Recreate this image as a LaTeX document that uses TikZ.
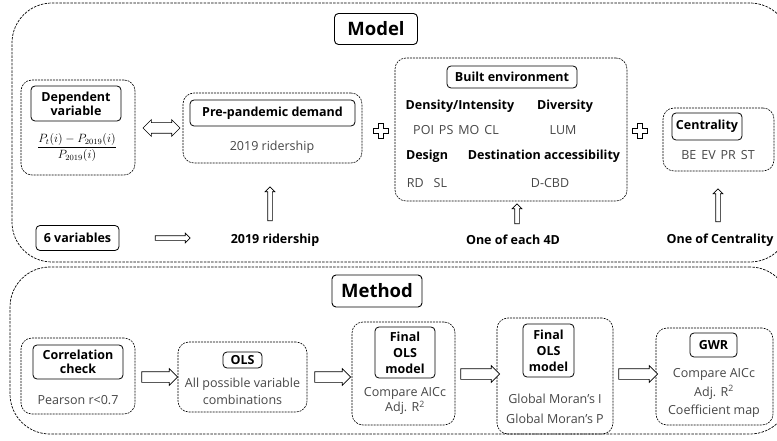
\documentclass[tikz,border=0pt]{standalone}
\usepackage{amsmath}
\usepackage{fontspec}
\setmainfont{Open Sans}
\usetikzlibrary{shapes.arrows, positioning, calc}
\definecolor{TextGray}{RGB}{70, 70, 70}

\begin{document}
\begin{tikzpicture}[
            x=1pt, y=-1pt,
            frame/.style={draw, line width=0.7pt, dash pattern=on 2.5pt off 1.2pt, rounded corners=40pt},
            group/.style={draw, line width=0.6pt, dash pattern=on 2pt off 1pt, rounded corners=11pt},
            label/.style={draw, line width=0.8pt, rounded corners=4pt, align=center, inner sep=1pt, font=\fontsize{12.5}{14}\selectfont\bfseries},
            headline/.style={label, line width=0.9pt, font=\fontsize{18.5}{20}\selectfont\bfseries},
            body/.style={align=center, inner sep=1pt, text=TextGray, font=\fontsize{12.5}{19}\selectfont},
            tag/.style={inner sep=1pt, font=\fontsize{12.5}{14}\selectfont\bfseries},
            blockarrow/.style={single arrow, draw, line width=0.7pt, fill=white, inner sep=5pt, minimum width=0pt, single arrow head extend=3pt},
            thinarrow/.style={blockarrow, inner sep=2pt, single arrow head extend=2.5pt},
            plusmark/.pic={\draw[line width=0.7pt] (-2.5,-7.5) -- (2.5,-7.5) -- (2.5,-2.5) -- (7.5,-2.5) -- (7.5,2.5) -- (2.5,2.5) -- (2.5,7.5) -- (-2.5,7.5) -- (-2.5,2.5) -- (-7.5,2.5) -- (-7.5,-2.5) -- (-2.5,-2.5) -- cycle;}
        ]
        \useasboundingbox (0,0) rectangle (777,441);

        % --- RAMY ---
        \node[frame, minimum width=778, minimum height=259] (modelframe) at (401,132.5) {};
        \node[frame, minimum width=780, minimum height=167] (methodframe) at (400,350.5) {};
        \node[headline, minimum width=83, minimum height=31] (model) at (376,29) {Model};
        \node[headline, minimum width=90, minimum height=32] (method) at (377,291) {Method};

        % --- MODEL: wiersz glowny ---
        \node[group, minimum width=114, minimum height=95] (depgroup) at (78,127.5) {};
        \node[label, minimum width=90, minimum height=35] (dep) at (76,103.5) {Dependent\\variable};
        \node[font=\fontsize{12}{14}\selectfont] (ratio) at (77,147.5) {$\dfrac{P_t(i)-P_{2019}(i)}{P_{2019}(i)}$};

        \node[blockarrow, double arrow, double arrow head extend=3pt, minimum height=37] (both) at (161.5,128) {};

        \node[group, minimum width=179, minimum height=70] (pregroup) at (272.5,128) {};
        \node[label, minimum width=165, minimum height=26] (pre) at (272.5,113) {Pre-pandemic demand};
        \node[body] (pretext) at (272,147) {2019 ridership};

        \pic at (381,131) {plusmark};

        \node[group, minimum width=232, minimum height=143] (begroup) at (511,129.5) {};
        \node[label, minimum width=130, minimum height=22] (be) at (512,77) {Built environment};
        \node[tag] (dens) at (460,106) {Density/Intensity};
        \node[tag] (divs) at (565,106) {Diversity};
        \node[body] (denstext) at (456,130) {POI\hspace{0.4em}PS\hspace{0.4em}MO\hspace{0.4em}CL};
        \node[body] (divstext) at (563,130) {LUM};
        \node[tag] (design) at (427,156) {Design};
        \node[tag] (dest) at (544,156) {Destination accessibility};
        \node[body] (designtext) at (427,183) {RD\hspace{0.8em}SL};
        \node[body] (desttext) at (550,183) {D-CBD};

        \pic at (640,131) {plusmark};

        \node[group, minimum width=111, minimum height=63] (cengroup) at (718.5,139.5) {};
        \node[label, minimum width=70, minimum height=27] (cen) at (707,126.5) {Centrality};
        \node[body] (centext) at (718,155) {BE\hspace{0.4em}EV\hspace{0.4em}PR\hspace{0.4em}ST};

        % --- MODEL: wybor zmiennych ---
        \node[label, minimum width=83, minimum height=25] (six) at (77.5,238) {6 variables};
        \node[thinarrow, minimum height=35] (toride) at (171.5,238) {};
        \node[tag] (ride) at (275,240) {2019 ridership};
        \node[tag] (each) at (513,240) {One of each 4D};
        \node[tag] (onecen) at (720,240) {One of Centrality};
        \node[thinarrow, shape border rotate=90, minimum height=34] (upride) at (270,205) {};
        \node[thinarrow, shape border rotate=90, minimum height=20] (upeach) at (517,215) {};
        \node[thinarrow, shape border rotate=90, minimum height=33] (upcen) at (718,206.5) {};

        % --- METHOD ---
        \node[group, minimum width=114, minimum height=76] (corrgroup) at (78,376) {};
        \node[label, minimum width=90, minimum height=34] (corr) at (78,362) {Correlation\\check};
        \node[body] (corrtext) at (78,400) {Pearson r<0.7};

        \node[group, minimum width=129, minimum height=70] (olsgroup) at (242.5,377) {};
        \node[label, minimum width=39, minimum height=16] (ols) at (242.5,360) {OLS};
        \node[body, font=\fontsize{12.5}{17}\selectfont] (olstext) at (242.5,391.5) {All possible variable\\combinations};

        \node[group, minimum width=103, minimum height=103] (finalgroup) at (403.5,373.5) {};
        \node[label, minimum width=60, minimum height=51, font=\fontsize{12.5}{16}\selectfont\bfseries] (final) at (405,352.5) {Final\\OLS\\model};
        \node[body, font=\fontsize{12.5}{15}\selectfont] (finaltext) at (405,401) {Compare AICc\\Adj. R\textsuperscript{2}};

        \node[group, minimum width=116, minimum height=116] (morangroup) at (555,376) {};
        \node[label, minimum width=51, minimum height=53, font=\fontsize{12.5}{16}\selectfont\bfseries] (moran) at (548.5,350.5) {Final\\OLS\\model};
        \node[body, font=\fontsize{12.5}{20}\selectfont] (morantext) at (555,409) {Global Moran's I\\Global Moran's P};

        \node[group, minimum width=117, minimum height=97] (gwrgroup) at (714.5,376.5) {};
        \node[label, minimum width=47, minimum height=24] (gwr) at (713.5,345) {GWR};
        \node[body, font=\fontsize{12.5}{18.5}\selectfont] (gwrtext) at (714,393) {Compare AICc\\Adj. R\textsuperscript{2}\\Coefficient map};

        \node[blockarrow, minimum height=36] (step1) at (157,377) {};
        \node[blockarrow, minimum height=36] (step2) at (330,377) {};
        \node[blockarrow, minimum height=39] (step3) at (477.5,374) {};
        \node[blockarrow, minimum height=39] (step4) at (635.5,374) {};

        \end{tikzpicture}
\end{document}
